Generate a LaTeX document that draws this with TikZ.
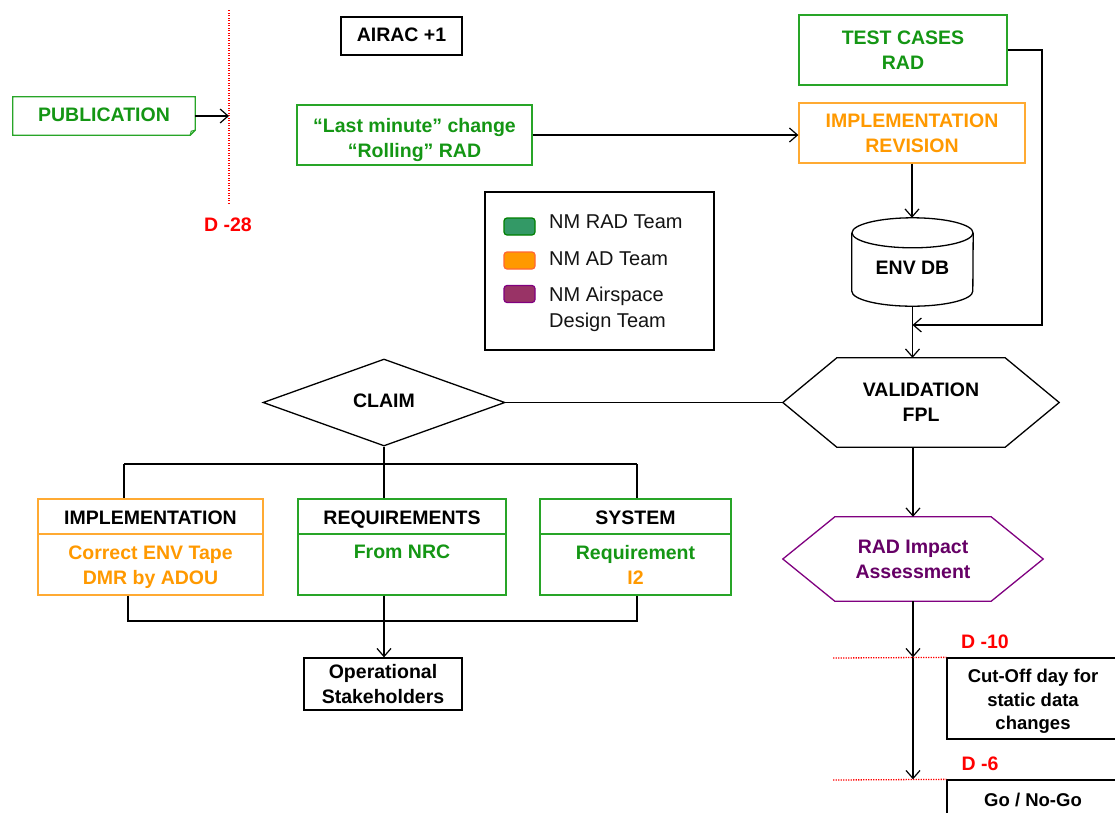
\documentclass[tikz,border=0pt]{standalone}
\usepackage{fontspec}
\setmainfont{Liberation Sans}
\usetikzlibrary{arrows.meta,shapes.geometric,calc}
\definecolor{cgreen}{RGB}{20,150,20}
\definecolor{cgreenb}{RGB}{40,165,40}
\definecolor{corange}{RGB}{255,153,0}
\definecolor{corangeb}{RGB}{255,170,50}
\definecolor{cpurple}{RGB}{102,0,102}
\definecolor{cpurpleb}{RGB}{128,0,128}
\definecolor{cred}{RGB}{255,0,0}
\definecolor{sgreen}{RGB}{51,153,102}
\definecolor{sgreenb}{RGB}{0,128,0}
\definecolor{sorange}{RGB}{255,153,0}
\definecolor{sorangeb}{RGB}{255,102,51}
\definecolor{spurple}{RGB}{153,51,102}
\definecolor{spurpleb}{RGB}{128,0,128}
\begin{document}
\begin{tikzpicture}[x=1pt,y=-1pt,
  txt/.style={font=\fontsize{19.5}{25}\selectfont\bfseries, align=center, inner sep=0pt},
  one/.style={text height=14pt, text depth=4pt},
  hdr/.style={text height=17pt, text depth=1pt},
  box/.style={txt, draw, line width=1.3pt},
  shp/.style={line width=1.3pt},
  lgtxt/.style={font=\fontsize{20}{26}\selectfont, text={rgb,255:red,20;green,20;blue,20}, align=left, inner sep=0pt, anchor=west},
  sw/.style={rounded corners=3pt, line width=1.2pt, minimum width=31, minimum height=17, inner sep=0pt},
  arr/.style={-{Straight Barb[length=8pt,width=14pt]}, line width=1.2pt},
  conn/.style={line width=1.2pt},
  reddot/.style={cred, line width=1.3pt, dash pattern=on 1.3pt off 1.2pt},
  dlabel/.style={txt, text=cred}]
\useasboundingbox (0,0) rectangle (1115,812);
\fill[white] (0,0) rectangle (1115,812);
\clip (0,0) rectangle (1115,812);

% --- top left
\node[txt, one, text=cgreen, minimum width=182, minimum height=38] (pub) at (104,116) {PUBLICATION};
\draw[cgreenb, shp] (pub.north west) -- (pub.north east) -- ([yshift=5pt]pub.south east)
  -- ([xshift=-5pt]pub.south east) -- (pub.south west) -- cycle;
\draw[cgreenb, line width=1pt] ([xshift=-5pt]pub.south east) -- ([xshift=-4pt,yshift=4pt]pub.south east) -- ([yshift=5pt]pub.south east);
\coordinate (d28top) at (229,10);
\coordinate (d28bot) at (229,203);
\draw[reddot] (d28top) -- (d28bot);
\node[dlabel] (d28) at (228,225) {D -28};
\draw[arr] (pub.east) -- (pub.east -| d28top);

\node[box, one, minimum width=121, minimum height=38] (airac) at (401.5,36) {AIRAC +1};
\node[box, draw=cgreenb, text=cgreen, minimum width=235, minimum height=60] (last) at (414.5,135) {\rule{0pt}{24pt}“Last minute” change\\“Rolling” RAD};

% --- top right
\node[box, draw=cgreenb, text=cgreen, minimum width=208, minimum height=70] (test) at (903,50) {TEST CASES\\RAD};
\node[box, draw=corangeb, text=corange, minimum width=226, minimum height=60] (implrev) at (912,133) {IMPLEMENTATION\\REVISION};
\draw[arr] (last.east) -- (last.east -| implrev.west);

\node[txt, one, minimum width=121, minimum height=73] (env) at (912.5,269.5) {ENV DB};
\draw[shp] (env.north west) -- ([yshift=15pt]env.south west)
  arc[start angle=180, end angle=360, x radius=60.5pt, y radius=15pt] -- (env.north east);
\draw[shp] (env.north) ellipse[x radius=60.5pt, y radius=15pt];
\draw[arr] (implrev.south) -- ($(implrev.south |- env.north)+(0,-15)$);

% --- legend
\node[draw, line width=1.2pt, minimum width=229, minimum height=158, inner sep=0pt] (leg) at (599.5,271) {};
\node[sw, fill=sgreen, draw=sgreenb] (s1) at (519.5,226.5) {};
\node[sw, fill=sorange, draw=sorangeb] (s2) at (519.5,260.5) {};
\node[sw, fill=spurple, draw=spurpleb] (s3) at (519.5,294) {};
\node[lgtxt] (t1) at (549,222) {NM RAD Team};
\node[lgtxt] (t2) at (549,259) {NM AD Team};
\node[lgtxt] (t3) at (549,309) {NM Airspace\\Design Team};

% --- validation
\node[txt, minimum width=276, minimum height=89] (val) at (921,402.5) {VALIDATION\\FPL};
\draw[shp] (val.west) -- ([xshift=54pt]val.north west) -- ([xshift=-54pt]val.north east)
  -- (val.east) -- ([xshift=-54pt]val.south east) -- ([xshift=54pt]val.south west) -- cycle;
\draw[arr] (env.south) -- (env.south |- val.north);
\coordinate (tc) at (1042,325);
\draw[arr] (test.east) -| (tc) -- (tc -| env.south);

% --- claim
\node[diamond, draw, shp, txt, one, minimum width=242, minimum height=87] (claim) at (384,402.5) {CLAIM};
\draw[conn] (claim.east) -- (val.west);

% --- lower boxes
\node[box, hdr, draw=corangeb, minimum width=225, minimum height=35] (implh) at (150.5,516.5) {IMPLEMENTATION};
\node[box, draw=corangeb, text=corange, minimum width=225, minimum height=61] (implb) at (150.5,564.5) {\rule{0pt}{20pt}Correct ENV Tape\\DMR by ADOU};
\node[box, hdr, draw=cgreenb, minimum width=208, minimum height=35] (reqh) at (402,516.5) {REQUIREMENTS};
\node[box, draw=cgreenb, text=cgreen, minimum width=208, minimum height=61] (reqb) at (402,564.5) {From NRC\\\phantom{From NRC}};
\node[box, hdr, draw=cgreenb, minimum width=191, minimum height=35] (sysh) at (635.5,516.5) {SYSTEM};
\node[box, draw=cgreenb, text=cgreen, minimum width=191, minimum height=61] (sysb) at (635.5,564.5) {Requirement\\{\color{corange}I2}};
\node[box, minimum width=158, minimum height=52] (op) at (383,684) {Operational\\Stakeholders};

\coordinate (tl) at (124,464);
\coordinate (tr) at (637,464);
\coordinate (bl) at (128,621);
\coordinate (br) at (637,621);
\draw[conn] (claim.south) -- (claim.south |- reqh.north);
\draw[conn] (tl) -- (tr);
\draw[conn] (tl) -- (tl |- implh.north);
\draw[conn] (tr) -- (tr |- sysh.north);
\draw[conn] (bl |- implb.south) -- (bl) -- (br) -- (br |- sysb.south);
\draw[arr] (claim.south |- reqb.south) -- (claim.south |- op.north);

% --- RAD impact
\node[txt, text=cpurple, minimum width=260, minimum height=84] (rad) at (913,559) {RAD Impact\\Assessment};
\draw[cpurpleb, shp] (rad.west) -- ([xshift=52pt]rad.north west) -- ([xshift=-52pt]rad.north east)
  -- (rad.east) -- ([xshift=-52pt]rad.south east) -- ([xshift=52pt]rad.south west) -- cycle;
\draw[arr] (rad.north |- val.south) -- (rad.north);

\node[box, font=\fontsize{18.5}{23.5}\selectfont\bfseries, minimum width=172, minimum height=81] (cut) at (1033,698.5) {\rule{0pt}{19pt}Cut-Off day for\\static data\\changes};
\node[box, font=\fontsize{18.5}{23.5}\selectfont\bfseries, minimum width=172, minimum height=40] (go) at (1033,800) {Go / No-Go};
\coordinate (a10) at (rad.south |- cut.north);
\coordinate (a6) at (rad.south |- go.north);
\draw[arr] (rad.south) -- (a10);
\draw[arr] (a10) -- (a6);
\coordinate (l10) at (833,658);
\coordinate (l6) at (833,780);
\draw[reddot] (l10) -- (cut.north west);
\draw[reddot] (l6) -- (go.north west);
\node[dlabel] (d10) at (985,642) {D -10};
\node[dlabel] (d6) at (980,764) {D -6};
\end{tikzpicture}
\end{document}
